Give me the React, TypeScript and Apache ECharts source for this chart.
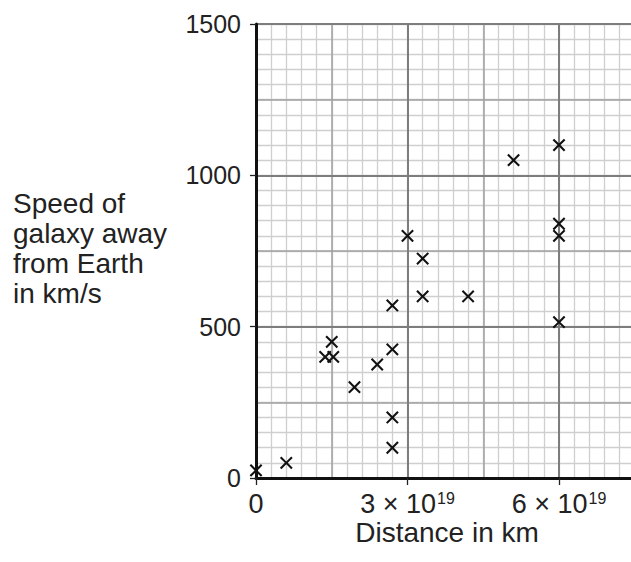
import React, { useEffect, useRef } from "react";
import * as echarts from "echarts";

// Distance values in units of 10^19 km
const distances = [0, 0.6, 1.37, 1.53, 1.5, 1.95, 2.4, 2.7, 2.7, 2.7, 2.7, 3.0, 3.3, 3.3, 4.2, 5.1, 6.0, 6.0, 6.0, 6.0];
// Speed of galaxy in km/s
const speeds = [25, 50, 400, 400, 450, 300, 375, 425, 570, 200, 100, 800, 725, 600, 600, 1050, 1100, 840, 800, 515];

const xTickValues = [0, 3, 6];
const xTickLabels = ["0", "3 × 10", "6 × 10"];
const xTickExponents = ["", "19", "19"];
const yTickValues = [0, 500, 1000, 1500];
const yTickLabels = ["0", "500", "1000", "1500"];

const xTitle = "Distance in km";
const yTitle = "Speed of\ngalaxy away\nfrom Earth\nin km/s";

const FONT = "Liberation Sans, Arial, Helvetica, sans-serif";
const CROSS = "path://M8.7,0H11.3V8.7H20V11.3H11.3V20H8.7V11.3H0V8.7H8.7Z";

export default function App() {
  const ref = useRef<HTMLDivElement>(null);
  useEffect(() => {
    if (!ref.current) return;
    const chart = echarts.init(ref.current, null, { renderer: "svg" });
    const X_MAX = 7.5;
    const Y_MAX = 1500;
    const hidden = {
      axisLabel: { show: false },
      axisLine: { show: false },
      axisTick: { show: false },
    };
    const xAxisBase = { type: "value", min: 0, max: X_MAX, gridIndex: 0, position: "bottom", offset: 0 };
    const yAxisBase = { type: "value", min: 0, max: Y_MAX, gridIndex: 0, position: "left", offset: 0 };
    const data = distances.map((d, i) => [d, speeds[i]]);
    chart.setOption({
      animation: false,
      backgroundColor: "#ffffff",
      grid: {
        left: 256, top: 24, bottom: 84, right: -3.75,
        containLabel: false, outerBoundsMode: "none",
      },
      xAxis: [
        { ...xAxisBase, ...hidden, interval: 0.3, z: 1,
          splitLine: { show: true, lineStyle: { color: "#cfcfcf", width: 1.3 } } },
        { ...xAxisBase, ...hidden, interval: 1.5, z: 2,
          splitLine: { show: true, lineStyle: { color: "#a0a0a0", width: 1.5 } } },
        { ...xAxisBase, interval: 3, z: 3,
          splitLine: { show: true, lineStyle: { color: "#7d7d7d", width: 2 } },
          axisLine: { show: true, onZero: false, lineStyle: { color: "#111", width: 3 } },
          axisTick: { show: true, inside: false, length: 7, lineStyle: { color: "#222", width: 1.3 } },
          axisLabel: {
            show: true,
            margin: 11,
            color: "#222",
            fontFamily: FONT,
            formatter: (v: number) => {
              const idx = xTickValues.findIndex((t) => Math.abs(t - v) < 1e-6);
              if (idx < 0) return "";
              const exp = xTickExponents[idx];
              return exp ? `{n|${xTickLabels[idx]}}{s|${exp}}` : `{n|${xTickLabels[idx]}}`;
            },
            rich: {
              n: { fontSize: 27, fontFamily: FONT, color: "#222", lineHeight: 30 },
              s: { fontSize: 16, fontFamily: FONT, color: "#222", lineHeight: 30, padding: [0, 0, 12, 1] },
            },
          },
        },
      ],
      yAxis: [
        { ...yAxisBase, ...hidden, interval: 50, z: 1,
          splitLine: { show: true, lineStyle: { color: "#cfcfcf", width: 1.3 } } },
        { ...yAxisBase, ...hidden, interval: 250, z: 2,
          splitLine: { show: true, lineStyle: { color: "#a0a0a0", width: 1.5 } } },
        { ...yAxisBase, interval: 500, z: 3,
          splitLine: { show: true, lineStyle: { color: "#7d7d7d", width: 2 } },
          axisLine: { show: true, onZero: false, lineStyle: { color: "#111", width: 3 } },
          axisTick: { show: true, length: 6, lineStyle: { color: "#222", width: 1.3 } },
          axisLabel: {
            show: true,
            margin: 15,
            fontSize: 25,
            color: "#222",
            fontFamily: FONT,
            formatter: (v: number) => {
              const idx = yTickValues.findIndex((t) => Math.abs(t - v) < 1e-6);
              return idx < 0 ? "" : yTickLabels[idx];
            },
          },
        },
      ],
      series: [
        {
          type: "scatter",
          xAxisIndex: 2,
          yAxisIndex: 2,
          data,
          symbol: CROSS,
          symbolSize: 16,
          symbolRotate: 45,
          clip: false,
          z: 10,
          itemStyle: { color: "#111", opacity: 1 },
        },
      ],
      graphic: [
        {
          type: "text",
          x: 447,
          y: 532,
          z: 20,
          style: {
            text: xTitle,
            fontSize: 28,
            fontFamily: FONT,
            fill: "#222",
            align: "center",
            verticalAlign: "middle",
            textAlign: "center",
            textVerticalAlign: "middle",
          },
        },
        {
          type: "text",
          x: 13,
          y: 248,
          z: 20,
          style: {
            text: yTitle,
            fontSize: 28,
            lineHeight: 30,
            fontFamily: FONT,
            fill: "#222",
            align: "left",
            verticalAlign: "middle",
            textAlign: "left",
            textVerticalAlign: "middle",
          },
        },
      ],
    });
    return () => chart.dispose();
  }, []);
  return (
    <div
      ref={ref}
      style={{ position: "absolute", left: 0, top: 0, width: 631, height: 562 }}
    />
  );
}
